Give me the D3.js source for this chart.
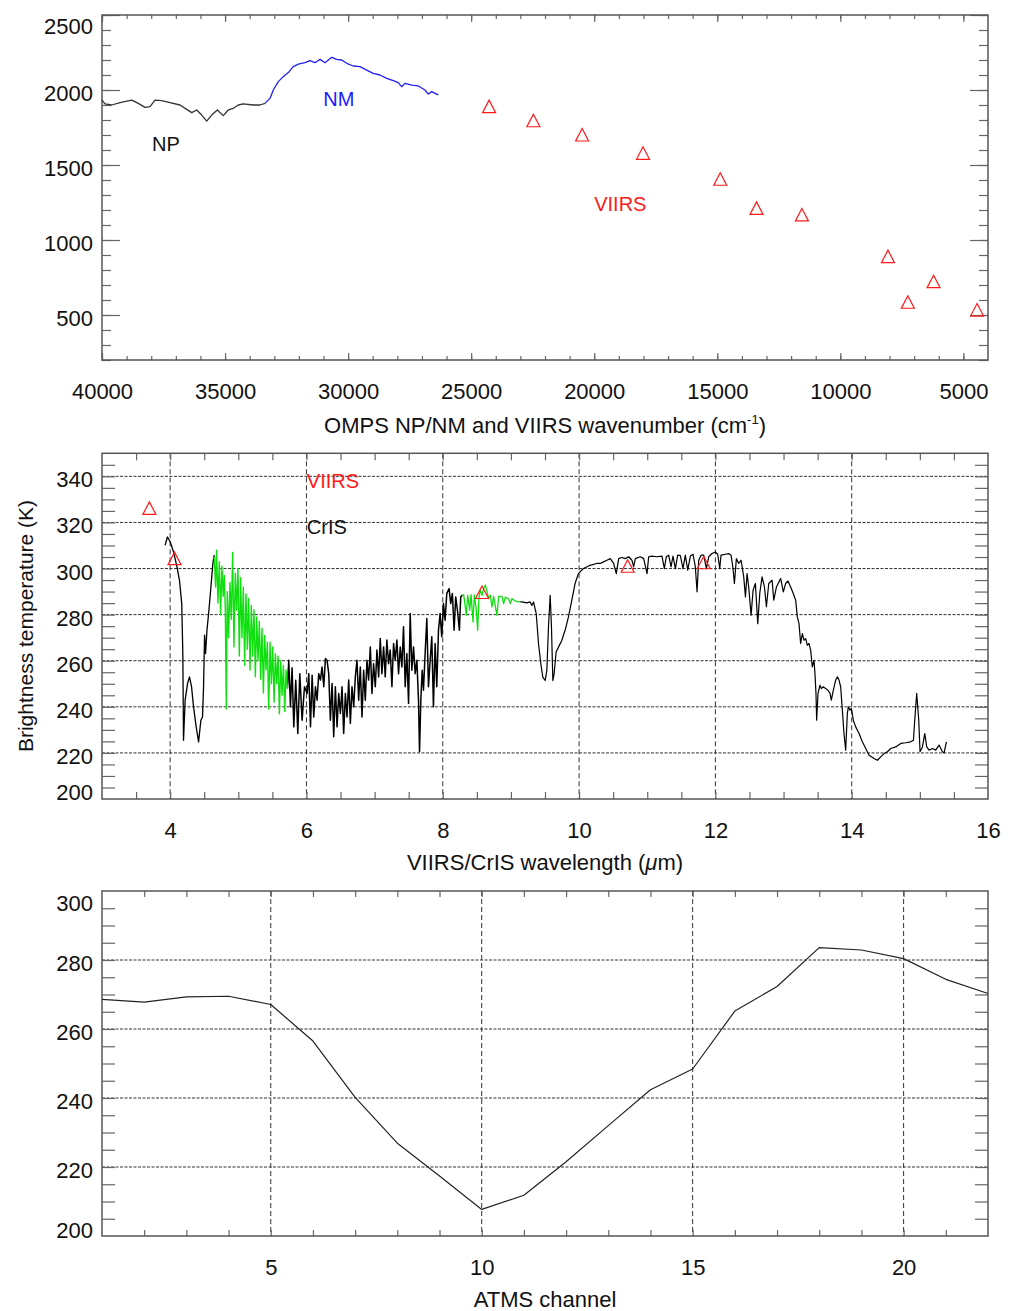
<!DOCTYPE html>
<html>
<head>
<meta charset="utf-8">
<script src="https://cdn.jsdelivr.net/npm/d3@7"></script>
<style>
  body { margin: 0; background: #fff; }
  svg { font-family: "Liberation Sans", Arial, Helvetica, sans-serif; }
</style>
</head>
<body>
<svg id="chart" width="1011" height="1311"></svg>
<script>
// ---- panel 1 : OMPS NP / NM and VIIRS (wavenumber, cm-1) ----
const npSpectrum = [[40000,1933],[39878,1907],[39606,1900],[39269,1916],[38793,1933],[38525,1911],[38253,1884],[38050,1889],[37847,1933],[37574,1929],[37237,1916],[36831,1900],[36559,1871],[36355,1849],[36152,1867],[35949,1833],[35746,1793],[35543,1833],[35315,1867],[35072,1829],[34868,1867],[34665,1878],[34462,1900],[34259,1907],[33853,1900],[33581,1900],[33377,1911]];
const nmSpectrum = [[33377,1911],[33174,1944],[33040,2000],[32837,2056],[32634,2089],[32430,2116],[32227,2156],[32024,2173],[31752,2182],[31549,2196],[31346,2182],[31143,2204],[30940,2182],[30667,2218],[30464,2204],[30261,2200],[30058,2178],[29790,2160],[29517,2156],[29245,2133],[28977,2111],[28705,2100],[28433,2078],[28164,2062],[27961,2049],[27824,2022],[27689,2044],[27417,2033],[27149,2027],[26876,2000],[26742,1973],[26604,1989],[26470,1978],[26336,1967]];
const viirsWavenumber = [24272, 22472, 20492, 18018, 14881, 13405, 11561, 8065, 7257, 6211, 4444];
const viirsRadiance = [1889, 1795, 1700, 1578, 1405, 1211, 1167, 889, 585, 722, 533];

// ---- panel 2 : VIIRS / CrIS brightness temperature (wavelength, um) ----
const crisBand1 = [[3.926,310.1],[3.96,313.7],[4.0,311.6],[4.05,307.2],[4.1,300.7],[4.137,294.9],[4.17,284.8],[4.186,263.1],[4.196,225.5],[4.22,242.9],[4.255,250.1],[4.284,253.0],[4.314,248.7],[4.343,240.0],[4.382,231.3],[4.417,224.8],[4.451,234.2],[4.475,235.6],[4.49,248.7],[4.505,271.1],[4.52,263.1],[4.54,273.2],[4.569,281.9],[4.598,292.0],[4.627,302.2],[4.647,305.8]];
const crisGreen1 = [[4.647,305],[4.667,292],[4.681,308],[4.701,285],[4.721,303],[4.740,280],[4.760,301],[4.779,288],[4.794,297],[4.809,283],[4.824,239],[4.838,290],[4.858,270],[4.877,294],[4.897,278],[4.917,307],[4.936,266],[4.956,298],[4.975,282],[4.995,300],[5.015,262],[5.034,296],[5.054,270],[5.074,292],[5.093,258],[5.113,289],[5.132,265],[5.152,287],[5.172,256],[5.191,284],[5.211,262],[5.230,282],[5.250,253],[5.270,279],[5.289,260],[5.309,277],[5.328,252],[5.348,274],[5.368,246],[5.387,271],[5.407,256],[5.426,268],[5.446,239],[5.466,268],[5.485,250],[5.505,266],[5.525,242],[5.544,263],[5.564,250],[5.583,262],[5.603,237],[5.623,260],[5.642,245],[5.662,258],[5.681,238],[5.701,256],[5.721,248]];
const crisBand2 = [[5.721,248],[5.740,260.2],[5.765,240],[5.789,257],[5.814,231.3],[5.843,251.5],[5.873,228.4],[5.902,254.4],[5.936,234.2],[5.971,248.7],[6.010,245.8],[6.034,254.4],[6.059,231.3],[6.083,253.7],[6.107,235.6],[6.132,248.7],[6.156,242.9],[6.180,254.4],[6.205,251.6],[6.229,257.3],[6.254,248.7],[6.278,261],[6.302,260.2],[6.327,254.4],[6.351,234.2],[6.376,250.1],[6.400,227],[6.424,248.7],[6.449,231.3],[6.473,245.8],[6.498,237.1],[6.522,248.7],[6.546,228.4],[6.571,245.8],[6.595,235.6],[6.620,251.6],[6.644,232.8],[6.668,248.7],[6.693,240],[6.717,253],[6.741,260.2],[6.766,242.9],[6.790,257.3],[6.815,235.6],[6.839,255.9],[6.863,242.9],[6.888,260.2],[6.912,251.6],[6.937,266],[6.961,245.8],[6.985,258.7],[7.010,248.7],[7.034,264.6],[7.059,253],[7.083,269.6],[7.107,254.4],[7.132,266],[7.156,253],[7.180,269],[7.205,258.7],[7.229,264.6],[7.254,248.7],[7.278,267.5],[7.302,260.2],[7.327,269],[7.351,254.4],[7.376,266],[7.400,257.3],[7.424,274.7],[7.449,248.7],[7.473,263.1],[7.498,241.4],[7.522,280.5],[7.546,255.9],[7.571,266],[7.595,254.4],[7.620,260.2],[7.644,242.9],[7.659,220.5],[7.678,242.9],[7.698,255.9],[7.717,247.2],[7.741,263.1],[7.766,278.3],[7.790,248.7],[7.815,260.2],[7.839,270.4],[7.863,240],[7.888,267.5],[7.912,248.7],[7.937,273.2],[7.961,280.5],[7.985,270.4],[8.010,284.8],[8.034,277.6],[8.059,289.2],[8.093,291.3],[8.117,284.8],[8.141,289.2],[8.166,273.2],[8.190,287.7],[8.215,281.9],[8.244,273.2],[8.263,287.7],[8.288,288.4]];
const crisGreen2 = [[8.283,288.4],[8.307,288.7],[8.346,279.7],[8.366,288.4],[8.395,281.9],[8.415,288.7],[8.444,276.8],[8.463,288.6],[8.493,281.9],[8.512,273.2],[8.532,287.7],[8.551,290.6],[8.576,288.4],[8.600,291.3],[8.624,292.8],[8.649,290],[8.673,287],[8.698,288.4],[8.722,283.3],[8.746,287.9],[8.795,279.7],[8.820,287.9],[8.868,287.9],[8.893,284.8],[8.917,287.6],[8.966,286.9],[8.990,284.8],[9.015,286.9],[9.063,285.9],[9.112,285.5],[9.137,285.5]];
const crisBand3 = [[9.137,285.5],[9.161,285.5],[9.234,285.1],[9.283,285.5],[9.307,284],[9.332,285.5],[9.371,280.4],[9.405,267.4],[9.439,258.7],[9.468,252.9],[9.502,251.4],[9.527,255.8],[9.551,274.6],[9.576,288.4],[9.595,274.6],[9.615,251.4],[9.634,254.3],[9.663,263.8],[9.698,265.9],[9.746,268.8],[9.795,273.2],[9.844,279],[9.893,286.2],[9.941,293.5],[9.990,297.8],[10.063,300],[10.161,301.4],[10.259,302.2],[10.311,302.2],[10.360,302.9],[10.409,303.6],[10.458,304.3],[10.507,302.2],[10.546,297.8],[10.581,304.3],[10.629,304.8],[10.678,304.3],[10.727,305.1],[10.776,303.6],[10.801,300.7],[10.825,304.3],[10.899,305.1],[10.948,304.3],[10.997,297.8],[11.021,305.1],[11.070,305.4],[11.143,305.1],[11.217,305.4],[11.251,300],[11.280,305.1],[11.315,305.8],[11.349,300.7],[11.378,305.4],[11.413,300],[11.447,305.8],[11.486,305.6],[11.525,300],[11.559,305.8],[11.594,299.3],[11.633,305.4],[11.672,306.2],[11.706,300.7],[11.731,289.9],[11.755,303.6],[11.790,305.8],[11.829,305.8],[11.868,300],[11.902,305.1],[11.951,306.5],[12.000,307.2],[12.034,306.2],[12.064,300],[12.083,305.8],[12.147,306.2],[12.196,306.5],[12.230,305.8],[12.259,300],[12.279,293.5],[12.308,304.3],[12.343,302.2],[12.377,303.6],[12.416,296.4],[12.441,287.7],[12.465,297.8],[12.489,292],[12.524,279.8],[12.553,290.6],[12.587,293.5],[12.622,276.1],[12.651,289.2],[12.685,296.4],[12.720,292],[12.749,283.4],[12.783,293.5],[12.832,294.9],[12.857,286.3],[12.896,292],[12.957,295.7],[12.997,289.9],[13.031,293.5],[13.065,294.6],[13.104,292],[13.143,289.2],[13.178,286.3],[13.202,279],[13.227,276.1],[13.251,267.5],[13.276,271.8],[13.300,268.9],[13.325,269.6],[13.349,266.7],[13.373,267.5],[13.398,264.6],[13.422,257.3],[13.447,260.2],[13.461,254.4],[13.476,245.8],[13.486,234.2],[13.506,245.8],[13.535,249.4],[13.555,247.9],[13.584,248.7],[13.618,247.9],[13.652,247.2],[13.682,245.8],[13.701,242.9],[13.731,247.2],[13.765,251.6],[13.790,253],[13.814,251.6],[13.838,248.7],[13.863,238.5],[13.887,228.4],[13.912,221.2],[13.936,237.1],[13.951,240],[13.976,238.5],[13.995,239.3],[14.024,234.2],[14.059,231.3],[14.108,228.4],[14.157,224.8],[14.206,221.9],[14.255,219],[14.328,217.6],[14.377,216.8],[14.426,218.3],[14.475,219.7],[14.524,220.5],[14.573,221.9],[14.646,222.6],[14.720,224.1],[14.793,224.4],[14.866,224.8],[14.906,225.5],[14.925,234.2],[14.954,245.8],[14.984,234.2],[15.003,220.5],[15.038,222.6],[15.072,228.4],[15.101,222.6],[15.136,221.2],[15.185,221.9],[15.233,221.2],[15.282,223.4],[15.331,220.5],[15.356,220],[15.390,224.8]];
const viirsWavelength = [3.695, 4.064, 8.576, 10.713, 11.829];
const viirsTb = [326.1, 304.3, 289.6, 301.0, 302.5];

// ---- panel 3 : ATMS ----
const atmsChannel = d3.range(1, 23);
const atmsTb = [268.6, 267.8, 269.3, 269.5, 267.1, 256.5, 240.2, 226.9, 217.4, 207.7, 211.8, 221.5, 232.0, 242.4, 248.4, 265.2, 272.3, 283.6, 282.9, 280.4, 274.4, 270.3];

const svg = d3.select("#chart");
const L = 102, R = 988;
const tickFont = 22, labelFont = 20;

const x1 = d3.scaleLinear().domain([40000, 4000]).range([L, R]);
const y1 = d3.scaleLinear().domain([200, 2500]).range([360, 15]);
const x2 = d3.scaleLinear().domain([3, 16]).range([L, R]);
const y2 = d3.scaleLinear().domain([200, 350]).range([799, 453.3]);
const x3 = d3.scaleLinear().domain([1, 22]).range([L, R]);
const y3 = d3.scaleLinear().domain([200, 300]).range([1236, 891]);

// inward ticks on all four sides
function ticks(xs, ys, xVals, xLen, yVals, yLen) {
  const [t, b] = [ys.range()[1], ys.range()[0]];
  const g = svg.append("g").attr("stroke", "#666");
  const sides = [
    [d3.axisBottom(xs).tickValues(xVals).tickSize(-xLen), `translate(0,${b})`],
    [d3.axisTop(xs).tickValues(xVals).tickSize(-xLen), `translate(0,${t})`],
    [d3.axisLeft(ys).tickValues(yVals).tickSize(-yLen), `translate(${L},0)`],
    [d3.axisRight(ys).tickValues(yVals).tickSize(-yLen), `translate(${R},0)`]
  ];
  sides.forEach(([ax, tr]) => {
    const a = g.append("g").attr("transform", tr).call(ax.tickFormat(""));
    a.select(".domain").remove();
    a.selectAll("line").attr("stroke", "#666").attr("stroke-width", 1.2);
  });
}

function labels(xs, ys, xVals, yVals, yOffset) {
  const b = ys.range()[0];
  const gx = svg.append("g").attr("transform", `translate(0,${b})`)
    .call(d3.axisBottom(xs).tickValues(xVals).tickSize(0).tickPadding(23).tickFormat(d3.format("d")));
  const gy = svg.append("g").attr("transform", `translate(${L},0)`)
    .call(d3.axisLeft(ys).tickValues(yVals).tickSize(0).tickPadding(9).tickFormat(d3.format("d")));
  [gx, gy].forEach(g => {
    g.select(".domain").remove();
    g.attr("font-family", null).attr("font-size", null);
    g.selectAll("text").attr("font-size", tickFont).attr("fill", "#111");
  });
  gy.selectAll("text").attr("dy", d => yOffset(d) + "px");
}

function grid(xs, ys, xVals, yVals) {
  const [t, b] = [ys.range()[1], ys.range()[0]];
  const g = svg.append("g").attr("stroke", "#333").attr("stroke-width", 1);
  g.selectAll(".gx").data(xVals).join("line")
    .attr("x1", d => xs(d)).attr("x2", d => xs(d)).attr("y1", t).attr("y2", b)
    .attr("stroke-dasharray", "5,3");
  g.selectAll(".gy").data(yVals).join("line")
    .attr("x1", L).attr("x2", R).attr("y1", d => ys(d)).attr("y2", d => ys(d))
    .attr("stroke-dasharray", "3,1.5");
}

function frame(ys) {
  const [t, b] = [ys.range()[1], ys.range()[0]];
  svg.append("rect").attr("x", L).attr("y", t).attr("width", R - L).attr("height", b - t)
    .attr("fill", "none").attr("stroke", "#555").attr("stroke-width", 1.5);
}

function triangles(xs, ys, xv, yv) {
  svg.append("g").selectAll("path").data(xv).join("path")
    .attr("d", "M0,-6.5L6.5,6L-6.5,6Z")
    .attr("transform", (d, i) => `translate(${xs(d)},${ys(yv[i])})`)
    .attr("fill", "none").attr("stroke", "#ff1a1a").attr("stroke-width", 1.2);
}

function curve(xs, ys, data, color, w) {
  svg.append("path").datum(data)
    .attr("d", d3.line().x(d => xs(d[0])).y(d => ys(d[1])))
    .attr("fill", "none").attr("stroke", color).attr("stroke-width", w)
    .attr("stroke-linejoin", "round");
}

function note(x, y, txt, color) {
  svg.append("text").attr("x", x).attr("y", y).attr("font-size", labelFont)
    .attr("fill", color).text(txt);
}

function title(y) {
  return svg.append("text").attr("x", (L + R) / 2).attr("y", y)
    .attr("text-anchor", "middle").attr("font-size", tickFont).attr("fill", "#111");
}

// ---------- panel 1 ----------
ticks(x1, y1, d3.range(5000, 40001, 1000), 4, d3.range(200, 2501, 100), 9);
ticks(x1, y1, d3.range(5000, 40001, 5000), 7, d3.range(500, 2501, 500), 18);
frame(y1);
labels(x1, y1, d3.range(5000, 40001, 5000), d3.range(500, 2501, 500), d => d === 2500 ? 18 : 10.5);
curve(x1, y1, npSpectrum, "#333", 1.3);
curve(x1, y1, nmSpectrum, "#2020f0", 1.3);
triangles(x1, y1, viirsWavenumber, viirsRadiance);
note(x1(37970), y1(1595), "NP", "#111");
note(x1(31009), y1(1895), "NM", "#1a1aff");
note(x1(20000), y1(1195), "VIIRS", "#ff1a1a");
const t1 = title(433);
t1.append("tspan").text("OMPS NP/NM and VIIRS wavenumber (cm");
t1.append("tspan").attr("font-size", 13).attr("dy", -9).text("-1");
t1.append("tspan").attr("dy", 9).text(")");

// ---------- panel 2 ----------
grid(x2, y2, d3.range(4, 15, 2), d3.range(220, 341, 20));
ticks(x2, y2, d3.range(3.5, 16, 0.5), 7, d3.range(205, 350, 5), 13);
frame(y2);
labels(x2, y2, d3.range(4, 17, 2), d3.range(200, 341, 20), d => d === 200 ? 0 : 10.5);
curve(x2, y2, crisBand1, "#000", 1.3);
curve(x2, y2, crisBand2, "#000", 1.5);
curve(x2, y2, crisBand3, "#000", 1.2);
curve(x2, y2, crisGreen1, "#10e010", 1.4);
curve(x2, y2, crisGreen2, "#10e010", 1.3);
triangles(x2, y2, viirsWavelength, viirsTb);
note(x2(6.006), y2(334.8), "VIIRS", "#ff1a1a");
note(x2(6.006), y2(314.8), "CrIS", "#111");
const t2 = title(870);
t2.append("tspan").text("VIIRS/CrIS wavelength (");
t2.append("tspan").attr("font-style", "italic").text("\u03bc");
t2.append("tspan").text("m)");
svg.append("text").attr("transform", "translate(33,626) rotate(-90)")
  .attr("text-anchor", "middle").attr("font-size", 21).attr("fill", "#111")
  .text("Brightness temperature (K)");

// ---------- panel 3 ----------
grid(x3, y3, d3.range(5, 21, 5), d3.range(220, 281, 20));
ticks(x3, y3, d3.range(2, 22, 1), 6, d3.range(205, 300, 5), 13);
frame(y3);
labels(x3, y3, d3.range(5, 21, 5), d3.range(200, 301, 20), d => d === 200 ? 1.5 : (d === 300 ? 19.5 : 10.5));
curve(x3, y3, atmsChannel.map((c, i) => [c, atmsTb[i]]), "#222", 1.2);
title(1307).text("ATMS channel");
</script>
</body>
</html>
